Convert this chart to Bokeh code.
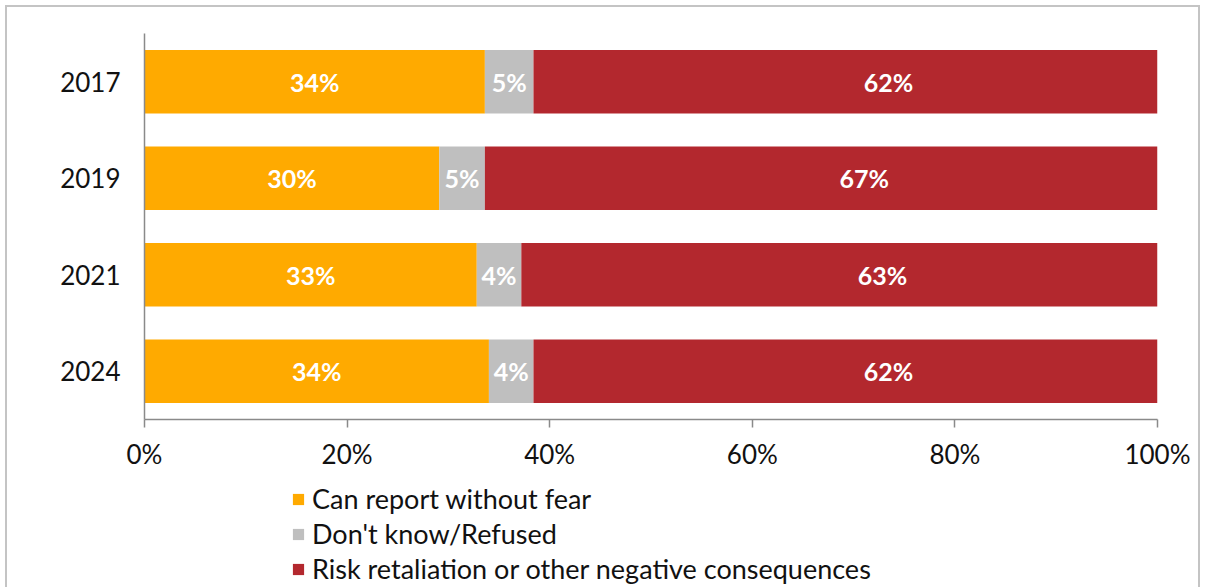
from bokeh.plotting import figure
from bokeh.layouts import column
from bokeh.models import (Range1d, FactorRange, FixedTicker, PrintfTickFormatter,
                          ColumnDataSource, Legend, LegendItem)
from bokeh.core.properties import value
from bokeh.embed import file_html
from bokeh.resources import INLINE

# ---- data ----
years = ["2017", "2019", "2021", "2024"]
can_report = [33.6, 29.1, 32.8, 34.0]
dont_know = [4.8, 4.5, 4.4, 4.4]
risk = [61.6, 66.4, 62.8, 61.6]
can_report_labels = [34, 30, 33, 34]
dont_know_labels = [5, 5, 4, 4]
risk_labels = [62, 67, 63, 62]
series_names = ["Can report without fear", "Don't know/Refused",
                "Risk retaliation or other negative consequences"]
colors = ["#FFAA00", "#BFBFBF", "#B3282E"]
x_ticks = [0, 20, 40, 60, 80, 100]

FONT = "Lato"
W = 1191

p = figure(
    y_range=FactorRange(factors=years[::-1]),
    x_range=Range1d(0, 100),
    width=W, height=470,
    min_border_left=137, min_border_right=41,
    min_border_top=26, min_border_bottom=58,
    output_backend="svg", toolbar_location=None,
)
p.outline_line_color = None
p.xgrid.grid_line_color = None
p.ygrid.grid_line_color = None
p.background_fill_color = "white"
p.border_fill_color = "white"

# stacked bars
lefts1 = [0.0] * len(years)
rights1 = [a for a in can_report]
lefts2 = rights1
rights2 = [a + b for a, b in zip(can_report, dont_know)]
lefts3 = rights2
rights3 = [a + b + c for a, b, c in zip(can_report, dont_know, risk)]

segments = [
    (lefts1, rights1, can_report_labels),
    (lefts2, rights2, dont_know_labels),
    (lefts3, rights3, risk_labels),
]
for i, (l, r, labs) in enumerate(segments):
    src = ColumnDataSource(dict(
        y=years, left=l, right=r,
        xc=[(a + b) / 2 for a, b in zip(l, r)],
        txt=[f"{v}%" for v in labs],
    ))
    p.hbar(y="y", left="left", right="right", height=0.66, source=src,
           fill_color=colors[i], line_color=None)
    p.text(x="xc", y="y", text="txt", source=src,
           x_offset=43 if i == 2 else 0,
           text_align="center", text_baseline="middle",
           text_color="white", text_font=value(FONT), text_font_style="bold",
           text_font_size="25px")

# axes
xa = p.xaxis[0]
xa.ticker = FixedTicker(ticks=x_ticks)
xa.formatter = PrintfTickFormatter(format="%d%%")
xa.axis_line_color = "#8a8a8a"
xa.axis_line_width = 1.5
xa.major_tick_line_color = "#8a8a8a"
xa.major_tick_line_width = 1.5
xa.major_tick_out = 8
xa.major_tick_in = 0
xa.minor_tick_line_color = None
xa.major_label_text_font = FONT
xa.major_label_text_font_size = "26px"
xa.major_label_text_color = "#111111"
xa.major_label_standoff = 10

ya = p.yaxis[0]
ya.axis_line_color = "#8a8a8a"
ya.axis_line_width = 1.5
ya.major_tick_line_color = None
ya.minor_tick_line_color = None
ya.major_tick_out = 0
ya.major_tick_in = 0
ya.major_label_text_font = FONT
ya.major_label_text_font_size = "26px"
ya.major_label_text_color = "#111111"
ya.major_label_standoff = 24

# legend panel (separate figure below the chart); swatch glyphs sit outside its view
p2 = figure(width=W, height=110, x_range=Range1d(0, 1), y_range=Range1d(0, 1),
            x_axis_location=None, y_axis_location=None,
            min_border=0, output_backend="svg", toolbar_location=None)
p2.outline_line_color = None
p2.xgrid.grid_line_color = None
p2.ygrid.grid_line_color = None
swatches = []
for i in range(3):
    swatches.append(p2.hbar(y=[-5], left=[0], right=[1], height=0.5,
                            fill_color=colors[i], line_color=None))
legend = Legend(
    items=[LegendItem(label=series_names[i], renderers=[swatches[i]]) for i in range(3)],
    location=(147, 2),
    orientation="vertical",
    glyph_width=14, glyph_height=14,
    label_height=30, spacing=2,
    padding=0, margin=0,
    label_standoff=7,
    border_line_color=None,
    background_fill_alpha=0,
    label_text_font=FONT,
    label_text_font_size="27px",
    label_text_color="#111111",
)
p2.add_layout(legend, "center")

layout = column(p, p2, spacing=0)
layout.styles = {"border-top": "2px solid #c4c4c4", "border-left": "2px solid #c4c4c4",
                 "border-right": "2px solid #c4c4c4",
                 "margin-left": "5px", "margin-top": "5px"}

open("out.html", "w").write(file_html(layout, INLINE))
